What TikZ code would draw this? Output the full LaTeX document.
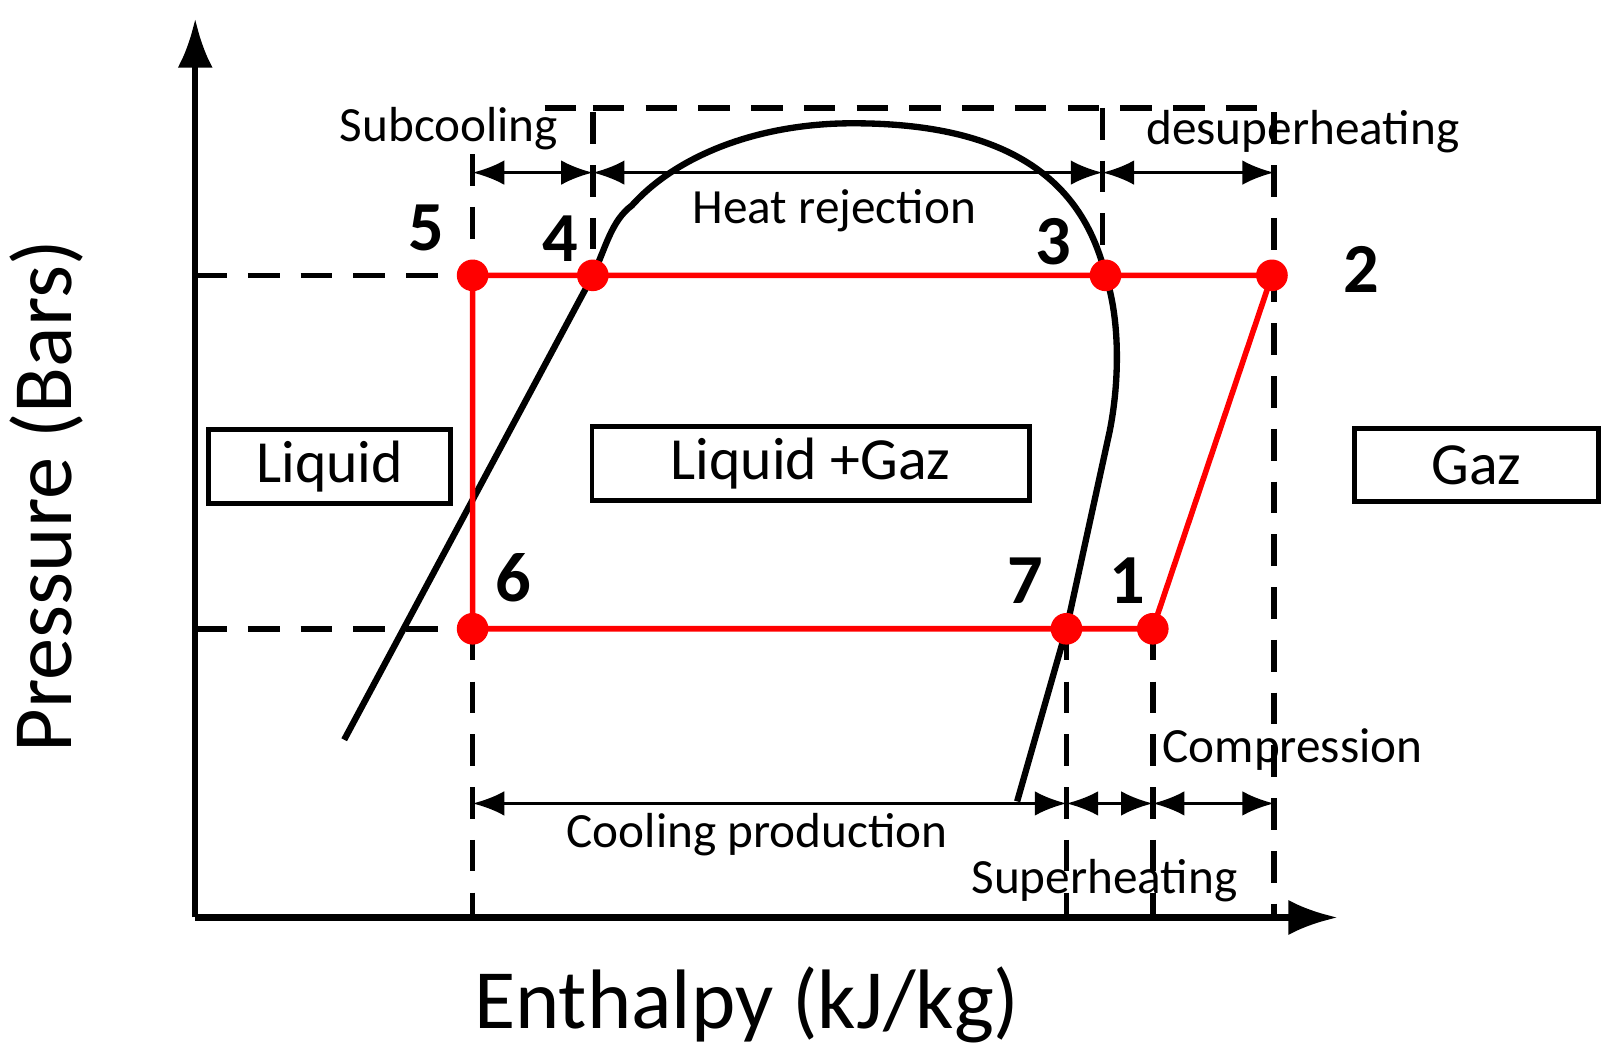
\documentclass[tikz,border=0pt]{standalone}
\usepackage{fontspec}
\setmainfont{Carlito}
\usetikzlibrary{arrows.meta}
\begin{document}
\begin{tikzpicture}[x=0.010275cm,y=-0.010275cm,
  dline/.style={draw,line width=1.6pt,dash pattern=on 9pt off 6pt},
  cyc/.style={draw=red,line width=1.6pt},
  pt/.style={circle,fill=red,inner sep=0pt,minimum size=9pt},
  dim/.style={line width=0.9pt,{Latex[length=9pt,width=7pt]}-{Latex[length=9pt,width=7pt]}},
  lbl/.style={font=\fontsize{14}{16}\selectfont},
  num/.style={font=\bfseries\fontsize{20}{22}\selectfont},
  region/.style={draw,line width=1.4pt,font=\fontsize{17}{19}\selectfont,minimum height=0.73cm}]
\useasboundingbox (0,0) rectangle (1568,1027);
% axes
\coordinate (O) at (190,893);
\coordinate (ytop) at (190,18);
\coordinate (xend) at (1302,893);
\draw[line width=1.8pt,-{Latex[length=14pt,width=10pt]}] (O) -- (ytop);
\draw[line width=1.8pt,-{Latex[length=14pt,width=10pt]}] (O) -- (xend);
% points
\coordinate (p5) at (460,268); \coordinate (p4) at (577,268);
\coordinate (p3) at (1076,268); \coordinate (p2) at (1238,268);
\coordinate (p6) at (460,612); \coordinate (p7) at (1038,612);
\coordinate (p1) at (1122,612);
\coordinate (yh) at (190,268); \coordinate (yl) at (190,612);
% dashed helpers
\draw[dline] (yh) -- (p5);
\draw[dline] (yl) -- (p6);
\coordinate (d5t) at (460,150); \coordinate (d5b) at (460,893);
\coordinate (d4t) at (577,105); \coordinate (tl) at (530,105);
\coordinate (d3t) at (1073,105); \coordinate (d3b) at (1073,268);
\coordinate (d2t) at (1240,105); \coordinate (d2b) at (1240,893);
\coordinate (d7b) at (1038,893); \coordinate (d1b) at (1122,893);
\draw[dline] (d5t) -- (d5b);
\draw[dline] (tl) -- (d4t) -- (p4);
\draw[dline] (d4t) -- (d2t) -- (d2b);
\draw[dline] (d3t) -- (d3b);
\draw[dline] (p7) -- (d7b);
\draw[dline] (p1) -- (d1b);
% saturation curve
\draw[line width=1.8pt] (335,720) -- (p4) .. controls (590,240) and (595,215) .. (615,200)
  .. controls (660,150) and (740,120) .. (830,120)
  .. controls (960,120) and (1050,160) .. (p3)
  .. controls (1090,310) and (1090,370) .. (1080,420)
  -- (p7) -- (990,780);
% cycle
\draw[cyc] (p5) -- (p2) -- (p1) -- (p6) -- cycle;
\foreach \p in {p1,p2,p3,p4,p5,p6,p7} \node[pt] at (\p) {};
% dimension arrows
\coordinate (a1) at (460,168); \coordinate (a2) at (577,168);
\coordinate (a3) at (1073,168); \coordinate (a4) at (1240,168);
\draw[dim] (a1) -- (a2); \draw[dim] (a2) -- (a3); \draw[dim] (a3) -- (a4);
\coordinate (b1) at (460,782); \coordinate (b2) at (1038,782);
\coordinate (b3) at (1122,782); \coordinate (b4) at (1240,782);
\draw[dim] (b1) -- (b2); \draw[dim] (b2) -- (b3); \draw[dim] (b3) -- (b4);
% labels
\node[lbl] (subc) at (437,125) {Subcooling};
\node[lbl] (heat) at (812,205) {Heat rejection};
\node[lbl] (desup) at (1268,128) {desuperheating};
\node[lbl] (comp) at (1258,730) {Compression};
\node[lbl] (cool) at (737,812) {Cooling production};
\node[lbl] (sup) at (1075,857) {Superheating};
\node[num] (n5) at (415,222) {5};
\node[num] (n4) at (545,232) {4};
\node[num] (n3) at (1025,235) {3};
\node[num] (n2) at (1325,262) {2};
\node[num] (n6) at (500,562) {6};
\node[num] (n7) at (998,565) {7};
\node[num] (n1) at (1097,565) {1};
\node[region,minimum width=2.42cm] (liq) at (321,454) {Liquid};
\node[region,minimum width=4.37cm] (lg) at (789,451) {Liquid +Gaz};
\node[region,minimum width=2.44cm] (gaz) at (1437,453) {Gaz};
\node[font=\fontsize{24}{26}\selectfont,rotate=90] (ylab) at (45,483) {Pressure (Bars)};
\node[font=\fontsize{24}{26}\selectfont] (xlab) at (727,978) {Enthalpy (kJ/kg)};
\end{tikzpicture}
\end{document}
